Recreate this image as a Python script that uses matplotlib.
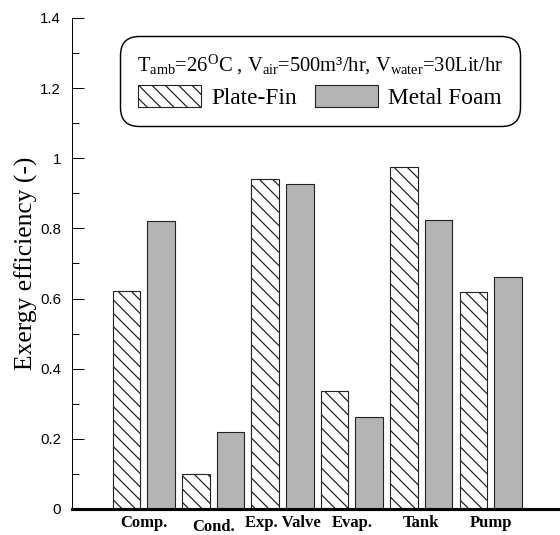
import numpy as np
import matplotlib
matplotlib.use("Agg")
import matplotlib.pyplot as plt

# data
components = ["Comp.", "Cond.", "Exp. Valve", "Evap.", "Tank", "Pump"]
plate_fin = [0.622, 0.101, 0.940, 0.337, 0.974, 0.618]
metal_foam = [0.821, 0.219, 0.926, 0.262, 0.824, 0.662]
y_ticks = [0, 0.2, 0.4, 0.6, 0.8, 1, 1.2, 1.4]
y_tick_labels = ["0", "0.2", "0.4", "0.6", "0.8", "1", "1.2", "1.4"]

plt.rcParams["font.family"] = ["Liberation Serif", "DejaVu Serif"]
plt.rcParams["mathtext.fontset"] = "custom"
plt.rcParams["mathtext.rm"] = "Liberation Serif"
plt.rcParams["mathtext.it"] = "Liberation Serif:italic"
plt.rcParams["hatch.linewidth"] = 1.1
plt.rcParams["hatch.color"] = "#222222"

DPI = 80
fig = plt.figure(figsize=(560 / DPI, 535 / DPI), dpi=DPI)
ax = fig.add_axes([0.1286, 0.0486, 0.8714, 0.918])

x = np.arange(len(components))
w = 0.397
ax.bar(x - 0.25, plate_fin, w, facecolor="white", edgecolor="#222222",
       hatch="\\\\", linewidth=1.0, label="Plate-Fin", zorder=2)
ax.bar(x + 0.25, metal_foam, w, facecolor="#b4b4b4", edgecolor="#222222",
       linewidth=1.0, label="Metal Foam", zorder=2)

ax.set_xlim(-1.035, 6.0)
ax.set_ylim(0, 1.4)

for s in ["top", "right"]:
    ax.spines[s].set_visible(False)
ax.spines["left"].set_linewidth(0.9)
ax.spines["bottom"].set_linewidth(2.8)
ax.spines["bottom"].set_zorder(3)

ax.set_yticks(y_ticks)
ax.set_yticklabels(y_tick_labels, family="Liberation Sans", fontsize=13.5)
ax.set_yticks(np.arange(0.1, 1.4, 0.2), minor=True)
ax.tick_params(axis="y", which="major", direction="in", length=11, width=0.9, pad=10)
ax.tick_params(axis="y", which="minor", direction="in", length=6, width=0.9)

ax.set_xticks(x)
ax.set_xticklabels(components, fontweight="bold", fontsize=15)
ax.tick_params(axis="x", length=0, pad=5)
ax.xaxis.get_major_ticks()[1].set_pad(9)

ax.set_ylabel("Exergy efficiency (-)", fontsize=23, labelpad=2)

title = (r"T$_{\rm amb}$=26$^{\rm O}$C , V$_{\rm air}$=500m³/hr, "
         r"V$_{\rm water}$=30Lit/hr")
leg = ax.legend(title=title, ncol=2, loc="upper center",
                bbox_to_anchor=(0.508, 0.963), borderaxespad=0,
                fontsize=21, title_fontsize=18.5, fancybox=True, framealpha=1,
                edgecolor="black", handlelength=2.7, handleheight=1.05,
                columnspacing=0.75, handletextpad=0.45, borderpad=0.72,
                labelspacing=0.35)
leg.get_frame().set_linewidth(1.3)
leg.get_frame().set_boxstyle("round", pad=0.0, rounding_size=0.8)

fig.savefig("out.png", dpi=DPI)
